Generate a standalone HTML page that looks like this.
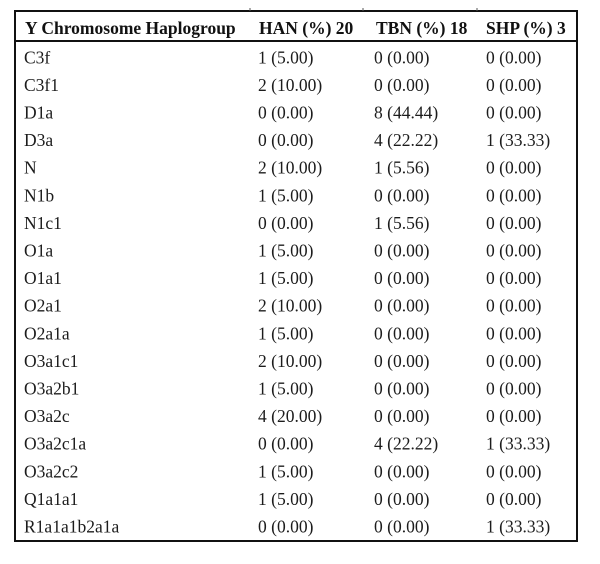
<!DOCTYPE html>
<html><head><meta charset="utf-8"><style>
html,body{margin:0;padding:0;background:#fff;}
svg{display:block;}
text{font-family:"Liberation Serif","Times New Roman",serif;fill:#1c1c1c;font-size:17.5px;}
.h{font-weight:bold;fill:#111;}
</style></head><body>
<svg width="600" height="564" viewBox="0 0 600 564" xmlns="http://www.w3.org/2000/svg">
<rect x="0" y="0" width="600" height="564" fill="#fff"/>
<rect x="15" y="11" width="562" height="530" fill="none" stroke="#111" stroke-width="2"/>
<line x1="15" y1="41" x2="577" y2="41" stroke="#111" stroke-width="2"/>
<line x1="250" y1="8" x2="250" y2="11" stroke="#555" stroke-width="1"/>
<line x1="363" y1="8" x2="363" y2="11" stroke="#555" stroke-width="1"/>
<line x1="477" y1="8" x2="477" y2="11" stroke="#555" stroke-width="1"/>
<text class="h" x="25" y="34">Y Chromosome Haplogroup</text>
<text class="h" x="259" y="34">HAN (%) 20</text>
<text class="h" x="376" y="34">TBN (%) 18</text>
<text class="h" x="486" y="34">SHP (%) 3</text>
<g>
<text x="24" y="63.3">C3f</text><text x="258" y="63.3">1 (5.00)</text><text x="374" y="63.3">0 (0.00)</text><text x="486" y="63.3">0 (0.00)</text>
<text x="24" y="90.9">C3f1</text><text x="258" y="90.9">2 (10.00)</text><text x="374" y="90.9">0 (0.00)</text><text x="486" y="90.9">0 (0.00)</text>
<text x="24" y="118.5">D1a</text><text x="258" y="118.5">0 (0.00)</text><text x="374" y="118.5">8 (44.44)</text><text x="486" y="118.5">0 (0.00)</text>
<text x="24" y="146.1">D3a</text><text x="258" y="146.1">0 (0.00)</text><text x="374" y="146.1">4 (22.22)</text><text x="486" y="146.1">1 (33.33)</text>
<text x="24" y="173.7">N</text><text x="258" y="173.7">2 (10.00)</text><text x="374" y="173.7">1 (5.56)</text><text x="486" y="173.7">0 (0.00)</text>
<text x="24" y="201.3">N1b</text><text x="258" y="201.3">1 (5.00)</text><text x="374" y="201.3">0 (0.00)</text><text x="486" y="201.3">0 (0.00)</text>
<text x="24" y="228.9">N1c1</text><text x="258" y="228.9">0 (0.00)</text><text x="374" y="228.9">1 (5.56)</text><text x="486" y="228.9">0 (0.00)</text>
<text x="24" y="256.5">O1a</text><text x="258" y="256.5">1 (5.00)</text><text x="374" y="256.5">0 (0.00)</text><text x="486" y="256.5">0 (0.00)</text>
<text x="24" y="284.1">O1a1</text><text x="258" y="284.1">1 (5.00)</text><text x="374" y="284.1">0 (0.00)</text><text x="486" y="284.1">0 (0.00)</text>
<text x="24" y="311.7">O2a1</text><text x="258" y="311.7">2 (10.00)</text><text x="374" y="311.7">0 (0.00)</text><text x="486" y="311.7">0 (0.00)</text>
<text x="24" y="339.3">O2a1a</text><text x="258" y="339.3">1 (5.00)</text><text x="374" y="339.3">0 (0.00)</text><text x="486" y="339.3">0 (0.00)</text>
<text x="24" y="366.9">O3a1c1</text><text x="258" y="366.9">2 (10.00)</text><text x="374" y="366.9">0 (0.00)</text><text x="486" y="366.9">0 (0.00)</text>
<text x="24" y="394.5">O3a2b1</text><text x="258" y="394.5">1 (5.00)</text><text x="374" y="394.5">0 (0.00)</text><text x="486" y="394.5">0 (0.00)</text>
<text x="24" y="422.1">O3a2c</text><text x="258" y="422.1">4 (20.00)</text><text x="374" y="422.1">0 (0.00)</text><text x="486" y="422.1">0 (0.00)</text>
<text x="24" y="449.7">O3a2c1a</text><text x="258" y="449.7">0 (0.00)</text><text x="374" y="449.7">4 (22.22)</text><text x="486" y="449.7">1 (33.33)</text>
<text x="24" y="477.3">O3a2c2</text><text x="258" y="477.3">1 (5.00)</text><text x="374" y="477.3">0 (0.00)</text><text x="486" y="477.3">0 (0.00)</text>
<text x="24" y="504.9">Q1a1a1</text><text x="258" y="504.9">1 (5.00)</text><text x="374" y="504.9">0 (0.00)</text><text x="486" y="504.9">0 (0.00)</text>
<text x="24" y="532.5">R1a1a1b2a1a</text><text x="258" y="532.5">0 (0.00)</text><text x="374" y="532.5">0 (0.00)</text><text x="486" y="532.5">1 (33.33)</text>
</g>
</svg>
</body></html>
